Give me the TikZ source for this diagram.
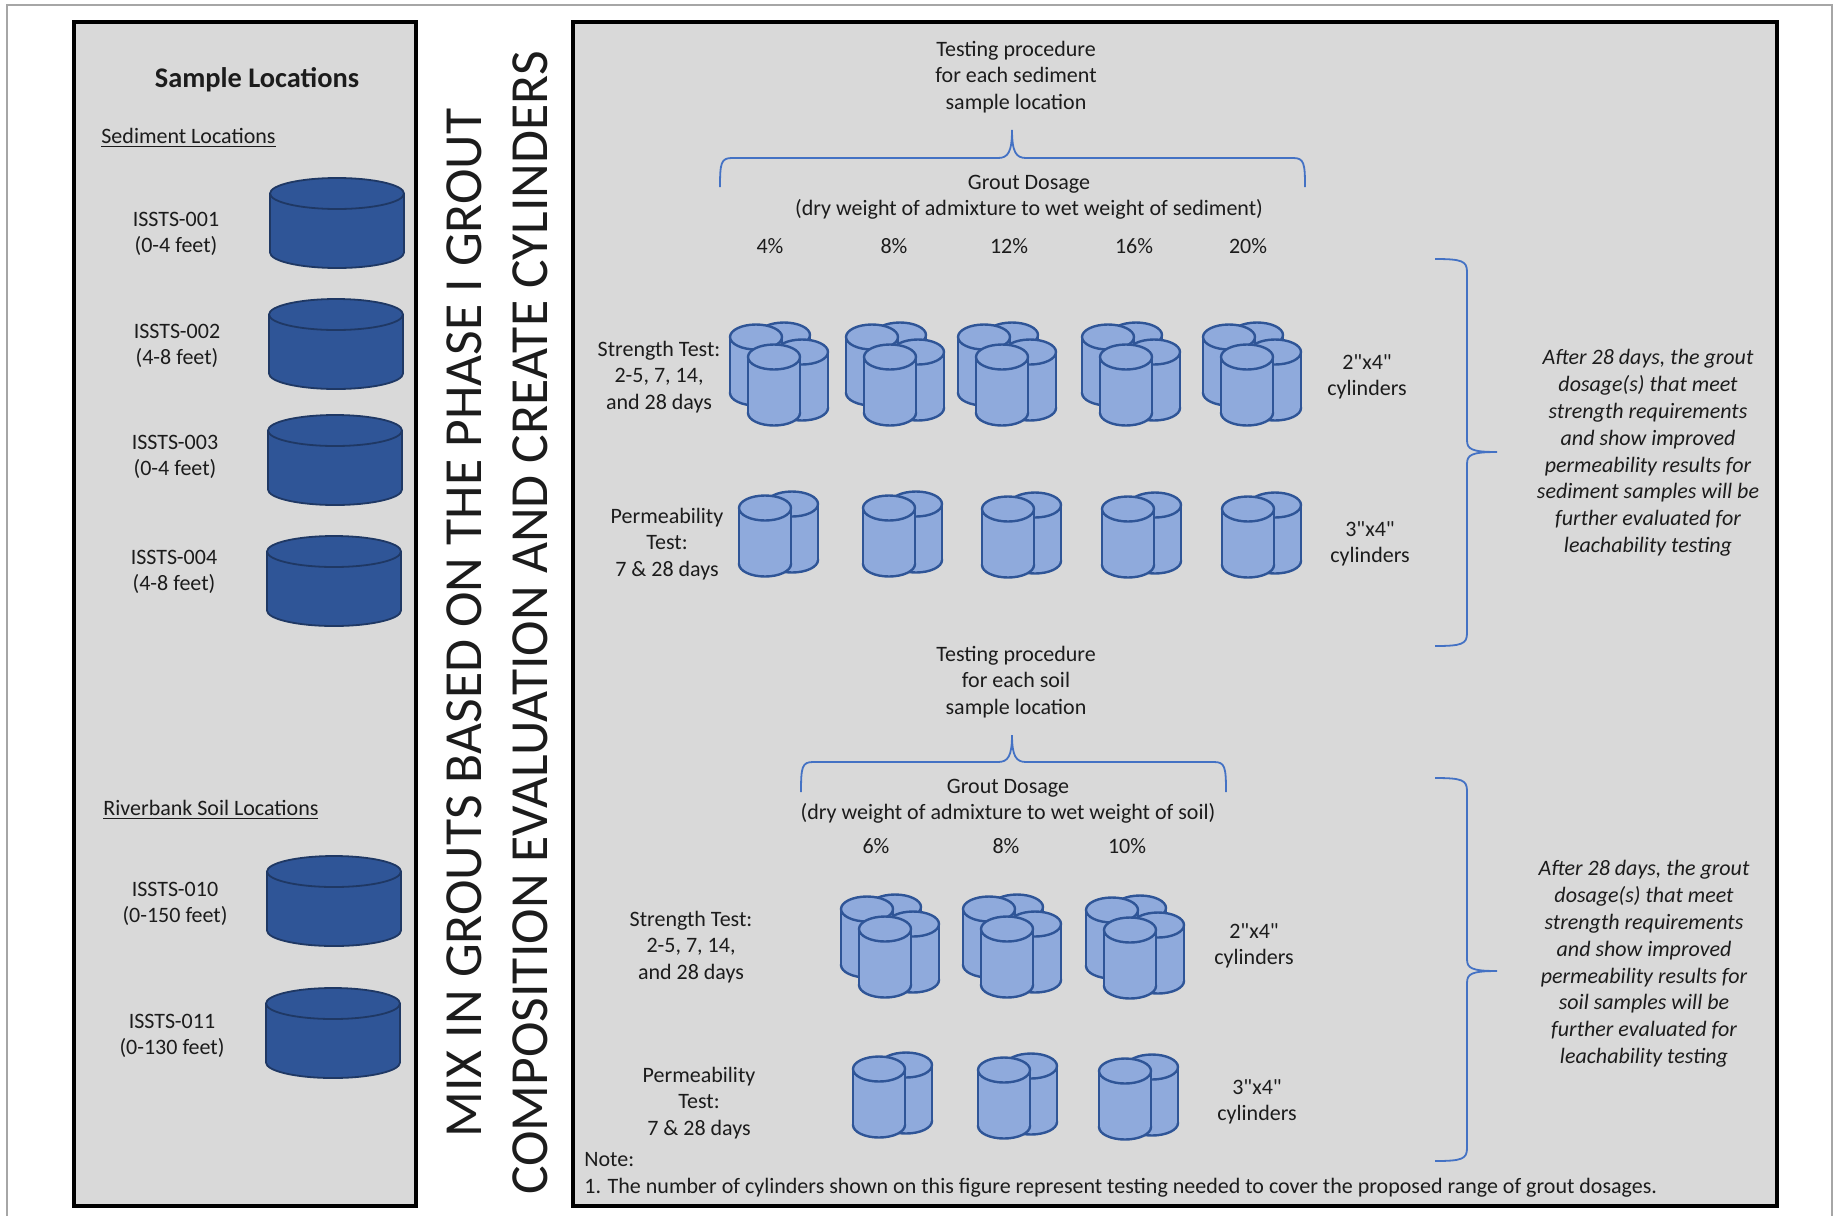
\documentclass[tikz,border=0pt]{standalone}
\usepackage{fontspec}
\setmainfont{Carlito}[Ligatures=TeXOff]
\definecolor{panel}{HTML}{D9D9D9}
\definecolor{ink}{HTML}{1C1C1C}
\definecolor{lightfill}{HTML}{8FAADC}
\definecolor{lightedge}{HTML}{2F5597}
\definecolor{darkfill}{HTML}{2F5597}
\definecolor{darkedge}{HTML}{1F3864}
\definecolor{bracecol}{HTML}{4472C4}
\definecolor{frame}{HTML}{A6A6A6}

\newcommand\bodyfont{\fontsize{11}{13.2}\selectfont}
\newcommand\headfont{\bfseries\fontsize{14.2}{17}\selectfont}
\newcommand\titlefont{\fontsize{26.8}{32}\selectfont}
\newcommand\notefont{\itshape\fontsize{11}{13.4}\selectfont}

% one upright cylinder: centre x, centre y of top face, x radius, y radius, body height, style
\newcommand\drum[6]{%
  \filldraw[#6] (#1,#2+#5) ellipse[x radius=#3,y radius=#4];
  \fill[#6,draw=none] (#1-#3,#2) rectangle (#1+#3,#2+#5);
  \draw[#6,fill=none] (#1-#3,#2) -- (#1-#3,#2+#5) (#1+#3,#2) -- (#1+#3,#2+#5);
  \filldraw[#6] (#1,#2) ellipse[x radius=#3,y radius=#4];}
% sample location drum
\newcommand\sampledrum[2]{\drum{#1}{#2}{67}{15.5}{59}{darkcyl}}
% group of four 2"x4" cylinders, front one centred at (#1,#2)
\newcommand\fourpack[2]{%
  \drum{#1+10}{#2-22}{26}{12.5}{56}{lightcyl}%
  \drum{#1-18}{#2-20}{26}{12.5}{56}{lightcyl}%
  \drum{#1+28}{#2-5}{26}{12.5}{56}{lightcyl}%
  \drum{#1}{#2}{26}{12.5}{56}{lightcyl}}
% pair of 3"x4" cylinders, front one centred at (#1,#2)
\newcommand\twopack[2]{%
  \drum{#1+27}{#2-4}{26}{12.5}{56}{lightcyl}%
  \drum{#1}{#2}{26}{12.5}{56}{lightcyl}}

\begin{document}
\begin{tikzpicture}[x=0.5pt,y=-0.5pt,
  lightcyl/.style={fill=lightfill,draw=lightedge,line width=1.2pt},
  darkcyl/.style={fill=darkfill,draw=darkedge,line width=0.9pt},
  brace/.style={draw=bracecol,line width=0.9pt},
  panelbox/.style={fill=panel,draw=black,line width=1.6pt},
  every node/.style={text=ink,inner sep=0pt,font=\bodyfont},
  lbl/.style={align=center},
  pct/.style={anchor=center}]
\useasboundingbox (0,0) rectangle (1839,1216);
\fill[white] (0,0) rectangle (1839,1216);

% outer frame
\draw[frame,line width=0.8pt] (7,1216) -- (7,5) -- (1832,5) -- (1832,1216);

% panels
\draw[panelbox] (74,22) rectangle (416,1206);
\draw[panelbox] (573,22) rectangle (1777,1206);

% ---------- sample locations ----------
\node[font=\headfont] (samplehead) at (257,80) {Sample Locations};
\node[anchor=base west] (sedhead) at (101,143) {\underline{Sediment Locations}};
\node[anchor=base west] (soilhead) at (103,815) {\underline{Riverbank Soil Locations}};

\sampledrum{337}{193.5}
\sampledrum{336}{314.5}
\sampledrum{335}{430.5}
\sampledrum{334}{551.5}
\sampledrum{334}{871.5}
\sampledrum{333}{1003.5}

\node[lbl] (s001) at (176,234) {ISSTS-001\\(0-4 feet)};
\node[lbl] (s002) at (177,346) {ISSTS-002\\(4-8 feet)};
\node[lbl] (s003) at (175,457) {ISSTS-003\\(0-4 feet)};
\node[lbl] (s004) at (174,572) {ISSTS-004\\(4-8 feet)};
\node[lbl] (s010) at (175,904) {ISSTS-010\\(0-150 feet)};
\node[lbl] (s011) at (172,1036) {ISSTS-011\\(0-130 feet)};

% ---------- vertical title ----------
\node[rotate=90,font=\titlefont] (titleA) at (464,623) {MIX IN GROUTS BASED ON THE PHASE I GROUT};
\node[rotate=90,font=\titlefont] (titleB) at (530,623) {COMPOSITION EVALUATION AND CREATE CYLINDERS};

% ---------- sediment testing ----------
\node[lbl] (sedproc) at (1016,77) {Testing procedure\\for each sediment\\sample location};
\draw[brace] (720,187) .. controls (720,163) and (721,158) .. (732,158) -- (998,158)
  .. controls (1008,158) and (1012,152) .. (1012,130)
  .. controls (1012,152) and (1016,158) .. (1026,158) -- (1293,158)
  .. controls (1304,158) and (1305,163) .. (1305,187);
\node[lbl] (seddose) at (1029,197) {Grout Dosage\\(dry weight of admixture to wet weight of sediment)};
\node[pct] (p4)  at (770,246)  {4\%};
\node[pct] (p8)  at (894,246)  {8\%};
\node[pct] (p12) at (1009,246) {12\%};
\node[pct] (p16) at (1134,246) {16\%};
\node[pct] (p20) at (1248,246) {20\%};

\node[lbl] (sedstr) at (659,377) {Strength Test:\\2-5, 7, 14,\\and 28 days};
\fourpack{774}{357}
\fourpack{890}{357}
\fourpack{1002}{357}
\fourpack{1126}{357}
\fourpack{1247}{357}
\node[lbl] (sedsmall) at (1367,377) {2"x4"\\cylinders};

\node[lbl] (sedperm) at (667,544) {Permeability\\Test:\\7 \& 28 days};
\twopack{765}{508}
\twopack{889}{508}
\twopack{1008}{509}
\twopack{1128}{509}
\twopack{1248}{509}
\node[lbl] (sedlarge) at (1370,544) {3"x4"\\cylinders};

\draw[brace] (1435,259) .. controls (1462,259) and (1467,261) .. (1467,272) -- (1467,440)
  .. controls (1467,449) and (1471,452) .. (1497,452)
  .. controls (1471,452) and (1467,455) .. (1467,464) -- (1467,633)
  .. controls (1467,644) and (1462,646) .. (1435,646);
\node[align=center,font=\notefont] (sednote) at (1648,453)
  {After 28 days, the grout\\dosage(s) that meet\\strength requirements\\and show improved\\permeability results for\\sediment samples will be\\further evaluated for\\leachability testing};

% ---------- soil testing ----------
\node[lbl] (soilproc) at (1016,682) {Testing procedure\\for each soil\\sample location};
\draw[brace] (801,792) .. controls (801,767) and (802,762) .. (813,762) -- (998,762)
  .. controls (1008,762) and (1012,756) .. (1012,735)
  .. controls (1012,756) and (1016,762) .. (1026,762) -- (1214,762)
  .. controls (1225,762) and (1226,767) .. (1226,792);
\node[lbl] (soildose) at (1008,801) {Grout Dosage\\(dry weight of admixture to wet weight of soil)};
\node[pct] (q6)  at (876,846)  {6\%};
\node[pct] (q8)  at (1006,846) {8\%};
\node[pct] (q10) at (1127,846) {10\%};

\node[lbl] (soilstr) at (691,947) {Strength Test:\\2-5, 7, 14,\\and 28 days};
\fourpack{885}{929}
\fourpack{1007}{929}
\fourpack{1130}{930}
\node[lbl] (soilsmall) at (1254,946) {2"x4"\\cylinders};

\node[lbl] (soilperm) at (699,1103) {Permeability\\Test:\\7 \& 28 days};
\twopack{879}{1069}
\twopack{1004}{1070}
\twopack{1125}{1071}
\node[lbl] (soillarge) at (1257,1102) {3"x4"\\cylinders};

\draw[brace] (1435,778) .. controls (1462,778) and (1467,780) .. (1467,791) -- (1467,959)
  .. controls (1467,968) and (1471,971) .. (1497,971)
  .. controls (1471,971) and (1467,974) .. (1467,983) -- (1467,1148)
  .. controls (1467,1159) and (1462,1161) .. (1435,1161);
\node[align=center,font=\notefont] (soilnote) at (1644,964)
  {After 28 days, the grout\\dosage(s) that meet\\strength requirements\\and show improved\\permeability results for\\soil samples will be\\further evaluated for\\leachability testing};

% ---------- note ----------
\node[anchor=base west] (notehead) at (584,1166) {Note:};
\node[anchor=base west] (notetext) at (584,1193) {1. The number of cylinders shown on this figure represent testing needed to cover the proposed range of grout dosages.};
\end{tikzpicture}
\end{document}
